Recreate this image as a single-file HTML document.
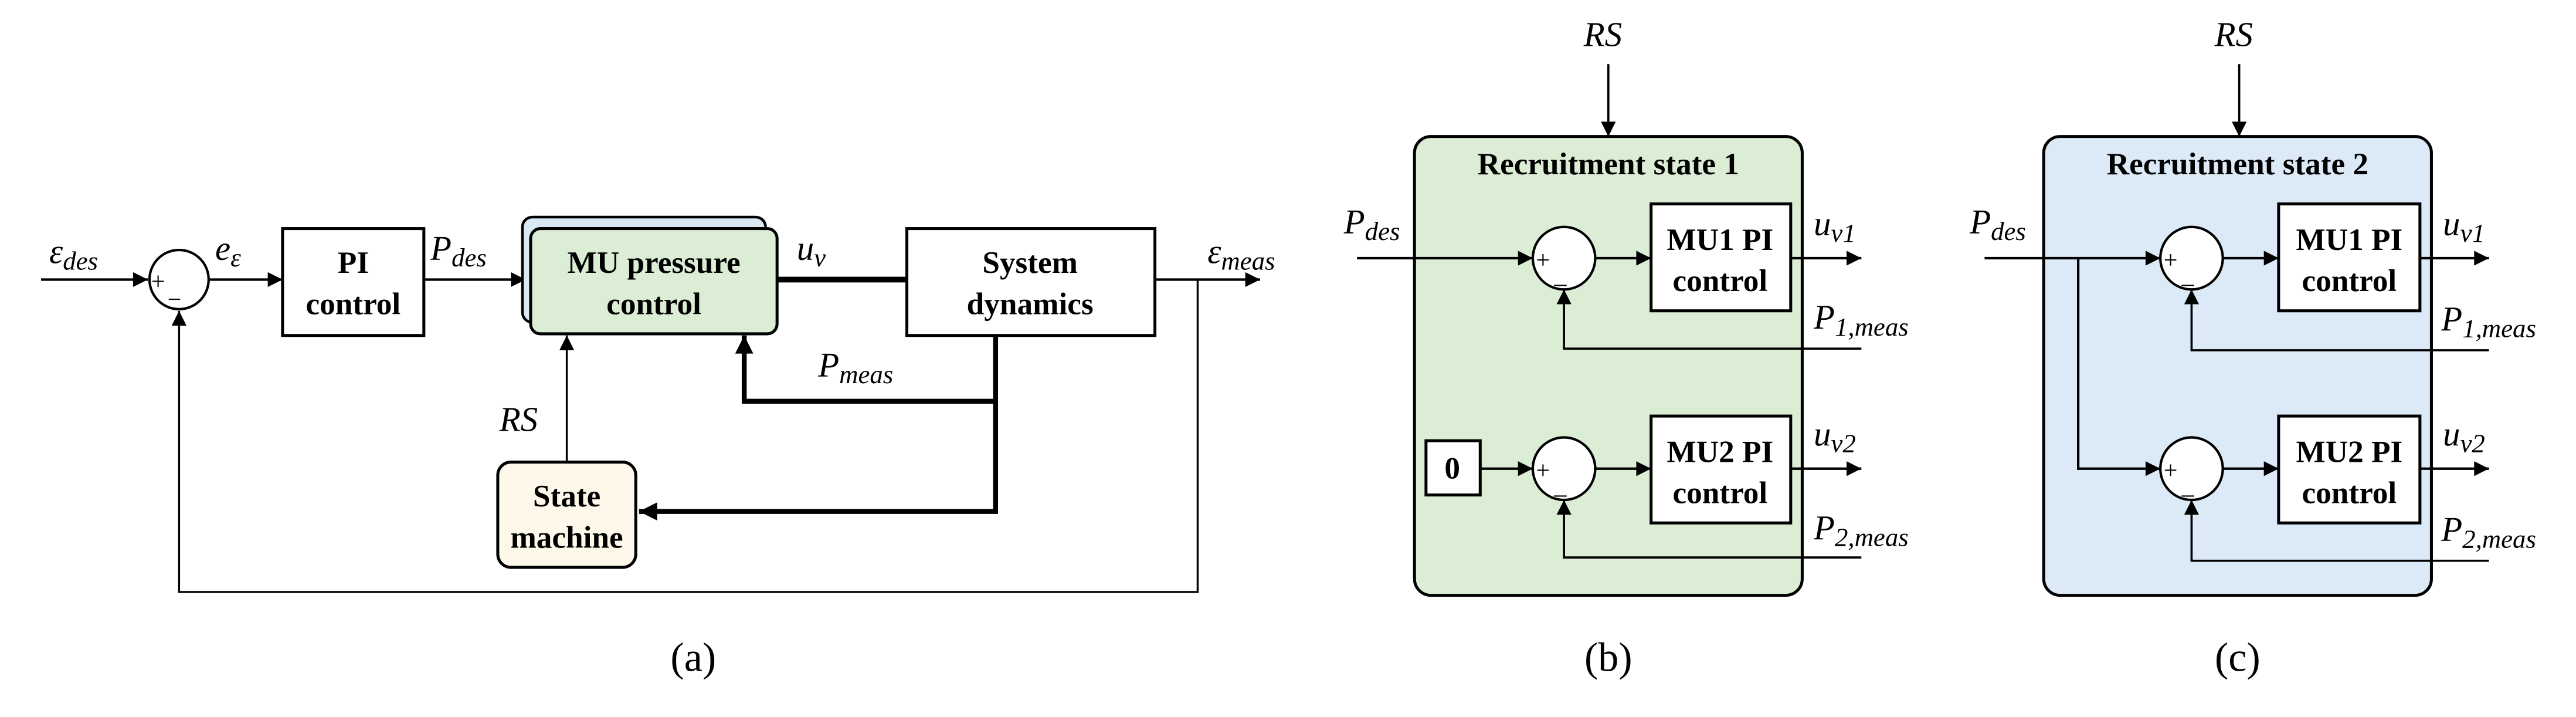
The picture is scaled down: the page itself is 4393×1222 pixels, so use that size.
<!DOCTYPE html>
<html><head><meta charset="utf-8"><style>
html,body{margin:0;padding:0;background:#fff;}
svg{display:block;}
text{font-family:"Liberation Serif","DejaVu Serif",serif;}
.lb{font-style:italic;font-size:21px;fill:#000;}
.sb{font-size:16px;}
.bx{font-weight:bold;font-size:19px;fill:#000;text-anchor:middle;}
.cap{font-size:25px;fill:#000;text-anchor:middle;}
.pm{font-size:15px;fill:#000;}
</style></head><body>
<svg width="4393" height="1222" viewBox="0 0 1568 436" preserveAspectRatio="none" xmlns="http://www.w3.org/2000/svg">
<defs>
<marker id="a" viewBox="0 0 10 10" refX="10" refY="5" markerWidth="10" markerHeight="9" markerUnits="userSpaceOnUse" orient="auto"><path d="M0,0 L10,5 L0,10 z" fill="#000"/></marker>
<marker id="b" viewBox="0 0 10 10" refX="10" refY="5" markerWidth="12" markerHeight="11" markerUnits="userSpaceOnUse" orient="auto"><path d="M0,0 L10,5 L0,10 z" fill="#000"/></marker>
</defs>
<g stroke="#000" fill="none">
<line x1="25" y1="170" x2="90" y2="170" stroke-width="1.5" marker-end="url(#a)"/>
<circle cx="109" cy="170" r="18" fill="#fff" stroke-width="1.5"/>
<line x1="127" y1="170" x2="172" y2="170" stroke-width="1.5" marker-end="url(#a)"/>
<rect x="172" y="139" width="86" height="65" fill="#fff" stroke-width="1.8"/>
<line x1="258" y1="170" x2="320" y2="170" stroke-width="1.5" marker-end="url(#a)"/>
<rect x="318" y="132" width="148" height="64" rx="6" fill="#dae8f5" stroke-width="1.6"/>
<rect x="323" y="139" width="150" height="64" rx="6" fill="#dcedd5" stroke-width="1.8"/>
<line x1="473" y1="170" x2="553" y2="170" stroke-width="3.5"/>
<rect x="552" y="139" width="151" height="65" fill="#fff" stroke-width="1.8"/>
<line x1="703" y1="170" x2="767" y2="170" stroke-width="1.5" marker-end="url(#a)"/>
<polyline points="729,170 729,360 109,360 109,189" stroke-width="1.2" marker-end="url(#a)"/>
<polyline points="606,204 606,311 389,311" stroke-width="3" marker-end="url(#b)"/>
<polyline points="606,244 453,244 453,204" stroke-width="3" marker-end="url(#b)"/>
<rect x="303" y="281" width="84" height="64" rx="8" fill="#fdf8ea" stroke-width="1.8"/>
<line x1="345" y1="281" x2="345" y2="204" stroke-width="1.2" marker-end="url(#a)"/>
<line x1="979" y1="39" x2="979" y2="83" stroke-width="1.3" marker-end="url(#a)"/>
<rect x="861" y="83" width="236" height="279" rx="10" fill="#dcedd5" stroke-width="1.8"/>
<line x1="826" y1="157" x2="933" y2="157" stroke-width="1.5" marker-end="url(#a)"/>
<circle cx="952" cy="157" r="19" fill="#fff" stroke-width="1.5"/>
<line x1="971" y1="157" x2="1005" y2="157" stroke-width="1.5" marker-end="url(#a)"/>
<rect x="1005" y="124" width="85" height="65" fill="#fff" stroke-width="1.8"/>
<line x1="1090" y1="157" x2="1133" y2="157" stroke-width="1.5" marker-end="url(#a)"/>
<polyline points="1133,212 952,212 952,176" stroke-width="1.3" marker-end="url(#a)"/>
<rect x="868" y="268" width="33" height="33" fill="#fff" stroke-width="1.8"/>
<line x1="901" y1="285" x2="933" y2="285" stroke-width="1.5" marker-end="url(#a)"/>
<circle cx="952" cy="285" r="19" fill="#fff" stroke-width="1.5"/>
<line x1="971" y1="285" x2="1005" y2="285" stroke-width="1.5" marker-end="url(#a)"/>
<rect x="1005" y="253" width="85" height="65" fill="#fff" stroke-width="1.8"/>
<line x1="1090" y1="285" x2="1133" y2="285" stroke-width="1.5" marker-end="url(#a)"/>
<polyline points="1133,339 952,339 952,304" stroke-width="1.3" marker-end="url(#a)"/>
<line x1="1363" y1="39" x2="1363" y2="83" stroke-width="1.3" marker-end="url(#a)"/>
<rect x="1244" y="83" width="236" height="279" rx="10" fill="#dbeaf6" stroke-width="1.8"/>
<line x1="1208" y1="157" x2="1315" y2="157" stroke-width="1.5" marker-end="url(#a)"/>
<polyline points="1265,157 1265,285 1315,285" stroke-width="1.5" marker-end="url(#a)"/>
<circle cx="1334" cy="157" r="19" fill="#fff" stroke-width="1.5"/>
<line x1="1353" y1="157" x2="1387" y2="157" stroke-width="1.5" marker-end="url(#a)"/>
<rect x="1387" y="124" width="86" height="65" fill="#fff" stroke-width="1.8"/>
<line x1="1473" y1="157" x2="1515" y2="157" stroke-width="1.5" marker-end="url(#a)"/>
<polyline points="1515,213 1334,213 1334,176" stroke-width="1.3" marker-end="url(#a)"/>
<circle cx="1334" cy="285" r="19" fill="#fff" stroke-width="1.5"/>
<line x1="1353" y1="285" x2="1387" y2="285" stroke-width="1.5" marker-end="url(#a)"/>
<rect x="1387" y="253" width="86" height="65" fill="#fff" stroke-width="1.8"/>
<line x1="1473" y1="285" x2="1515" y2="285" stroke-width="1.5" marker-end="url(#a)"/>
<polyline points="1515,341 1334,341 1334,304" stroke-width="1.3" marker-end="url(#a)"/>
</g>
<g class="pm">
<text x="92" y="176">+</text><text x="102" y="187">−</text>
<text x="935" y="163">+</text><text x="946" y="172">_</text>
<text x="935" y="291">+</text><text x="946" y="300">_</text>
<text x="1317" y="163">+</text><text x="1328" y="172">_</text>
<text x="1317" y="291">+</text><text x="1328" y="300">_</text>
</g>
<g font-family="Liberation Serif, DejaVu Serif, serif">
<text class="bx" x="215" y="166">PI</text><text class="bx" x="215" y="191">control</text>
<text class="bx" x="398" y="166">MU pressure</text><text class="bx" x="398" y="191">control</text>
<text class="bx" x="627" y="166">System</text><text class="bx" x="627" y="191">dynamics</text>
<text class="bx" x="345" y="308">State</text><text class="bx" x="345" y="333">machine</text>
<text class="bx" x="979" y="106">Recruitment state 1</text>
<text class="bx" x="1047" y="152">MU1 PI</text><text class="bx" x="1047" y="177">control</text>
<text class="bx" x="1047" y="281">MU2 PI</text><text class="bx" x="1047" y="306">control</text>
<text class="bx" x="884" y="291">0</text>
<text class="bx" x="1362" y="106">Recruitment state 2</text>
<text class="bx" x="1430" y="152">MU1 PI</text><text class="bx" x="1430" y="177">control</text>
<text class="bx" x="1430" y="281">MU2 PI</text><text class="bx" x="1430" y="306">control</text>
<text class="lb" x="30" y="160">ε<tspan class="sb" dy="4">des</tspan></text>
<text class="lb" x="131" y="158">e<tspan class="sb" dy="4">ε</tspan></text>
<text class="lb" x="262" y="158">P<tspan class="sb" dy="4">des</tspan></text>
<text class="lb" x="485" y="158">u<tspan class="sb" dy="4">v</tspan></text>
<text class="lb" x="735" y="160">ε<tspan class="sb" dy="4">meas</tspan></text>
<text class="lb" x="498" y="229">P<tspan class="sb" dy="4">meas</tspan></text>
<text class="lb" x="304" y="262">RS</text>
<text class="lb" x="964" y="28">RS</text>
<text class="lb" x="1348" y="28">RS</text>
<text class="lb" x="818" y="142">P<tspan class="sb" dy="4">des</tspan></text>
<text class="lb" x="1199" y="142">P<tspan class="sb" dy="4">des</tspan></text>
<text class="lb" x="1104" y="143">u<tspan class="sb" dy="4">v1</tspan></text>
<text class="lb" x="1104" y="271">u<tspan class="sb" dy="4">v2</tspan></text>
<text class="lb" x="1104" y="200">P<tspan class="sb" dy="4">1,meas</tspan></text>
<text class="lb" x="1104" y="328">P<tspan class="sb" dy="4">2,meas</tspan></text>
<text class="lb" x="1487" y="143">u<tspan class="sb" dy="4">v1</tspan></text>
<text class="lb" x="1487" y="271">u<tspan class="sb" dy="4">v2</tspan></text>
<text class="lb" x="1486" y="201">P<tspan class="sb" dy="4">1,meas</tspan></text>
<text class="lb" x="1486" y="329">P<tspan class="sb" dy="4">2,meas</tspan></text>
<text class="cap" x="422" y="408">(a)</text>
<text class="cap" x="979" y="408">(b)</text>
<text class="cap" x="1362" y="408">(c)</text>
</g>
</svg>
</body></html>
